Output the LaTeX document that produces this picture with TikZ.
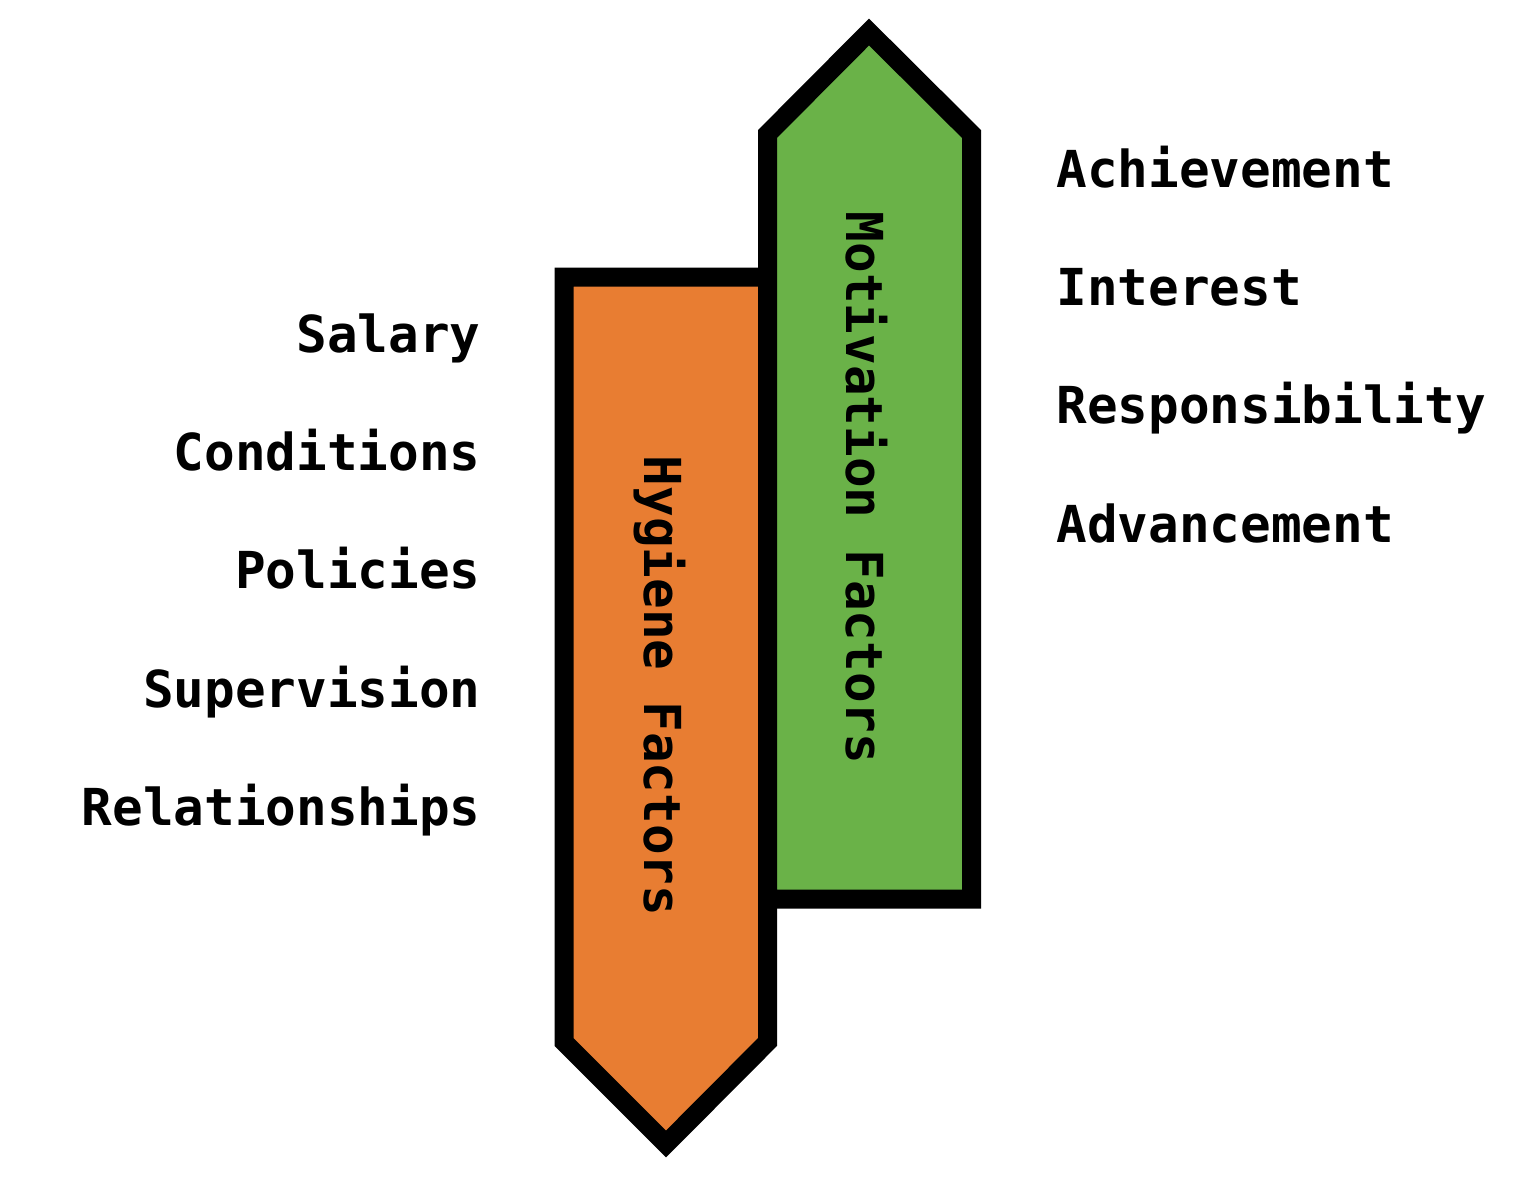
\documentclass[tikz,border=0pt]{standalone}
\usepackage{fontspec}
\setmonofont{DejaVu Sans Mono}
\usepackage{tikz}
\usetikzlibrary{positioning}
\definecolor{hygorange}{RGB}{232,125,50}
\definecolor{motgreen}{RGB}{106,178,72}
\tikzset{
    factor diagram/.style={
            x=0.02cm,y=-0.02cm,
            factor/.style={font=\fontsize{29}{35}\selectfont\ttfamily\bfseries,inner sep=0pt},
            hygiene/.style={factor,anchor=base east},
            motivator/.style={factor,anchor=base west},
            banner/.style={draw=black,line width=0.38cm,line join=miter}
        }
    }

\begin{document}
\begin{tikzpicture}[factor diagram]
    \useasboundingbox (0,0) rectangle (1536,1178);
    % the two banners
    \filldraw [banner,fill=hygorange] (564,277) -- (767.5,277) -- (767.5,1042) -- (666,1144) -- (564,1042) -- cycle;
    \filldraw [banner,fill=motgreen] (767.5,899) -- (767.5,134) -- (869,32) -- (971.5,134) -- (971.5,899) -- cycle;
    \node (hyg) [factor,rotate=-90] at (660,686) {Hygiene Factors};
    \node (mot) [factor,rotate=-90] at (867,488) {Motivation Factors};
    % left column
    \node (salary) [hygiene] at (481,352) {Salary};
    \node (conditions) [hygiene,below=2.37cm of salary.base east,anchor=base east] {Conditions};
    \node (policies) [hygiene,below=2.37cm of conditions.base east,anchor=base east] {Policies};
    \node (supervision) [hygiene,below=2.37cm of policies.base east,anchor=base east] {Supervision};
    \node (relations) [hygiene,below=2.37cm of supervision.base east,anchor=base east] {Relationships};
    % right column
    \node (achieve) [motivator] at (1056,187) {Achievement};
    \node (interest) [motivator,below=2.37cm of achieve.base west,anchor=base west] {Interest};
    \node (respons) [motivator,below=2.37cm of interest.base west,anchor=base west] {Responsibility};
    \node (advance) [motivator,below=2.37cm of respons.base west,anchor=base west] {Advancement};
\end{tikzpicture}
\end{document}
